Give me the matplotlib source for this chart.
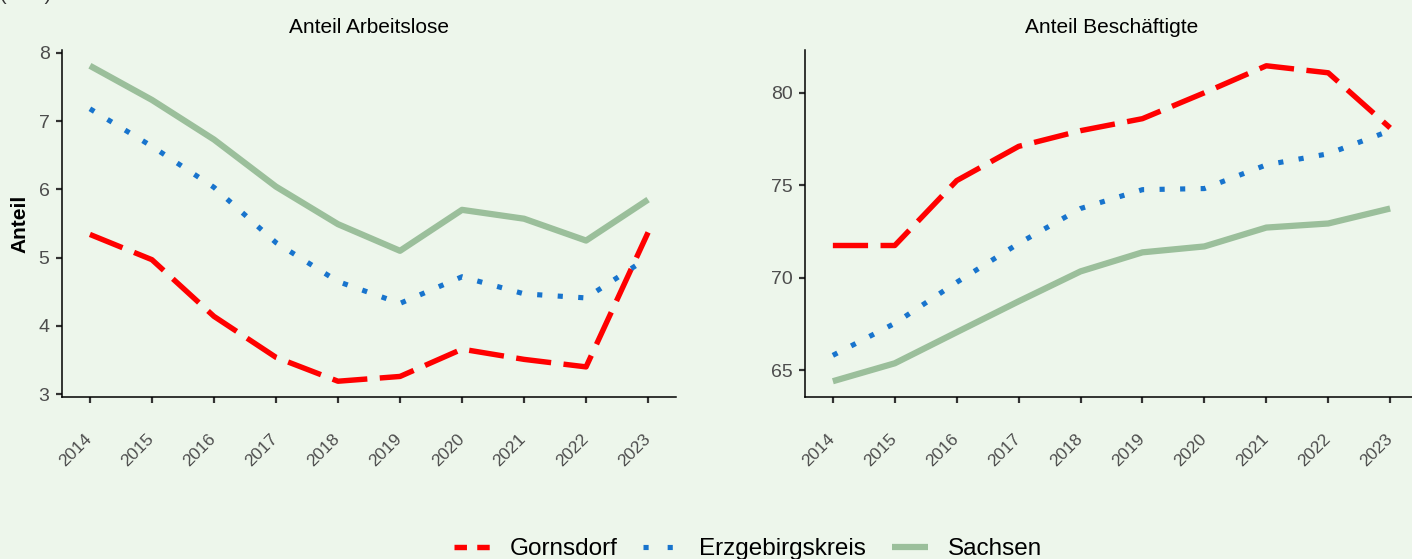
import matplotlib
matplotlib.use("Agg")
import matplotlib.pyplot as plt
from matplotlib.lines import Line2D
import matplotlib.transforms as mtransforms
import numpy as np

plt.rcParams['font.family'] = ['Liberation Sans', 'DejaVu Sans']

years = [2014, 2015, 2016, 2017, 2018, 2019, 2020, 2021, 2022, 2023]
series_names = ["Gornsdorf", "Erzgebirgskreis", "Sachsen"]

# Anteil Arbeitslose
alo_gornsdorf = [5.34, 4.97, 4.14, 3.54, 3.19, 3.26, 3.66, 3.51, 3.40, 5.37]
alo_erzgebirge = [7.18, 6.63, 6.03, 5.22, 4.65, 4.33, 4.72, 4.47, 4.41, 5.00]
alo_sachsen = [7.81, 7.31, 6.73, 6.04, 5.49, 5.10, 5.70, 5.57, 5.25, 5.85]

# Anteil Beschäftigte
besch_gornsdorf = [71.74, 71.74, 75.25, 77.10, 77.95, 78.60, 80.00, 81.46, 81.08, 78.10]
besch_erzgebirge = [65.80, 67.53, 69.75, 71.85, 73.74, 74.76, 74.82, 76.10, 76.70, 77.95]
besch_sachsen = [64.40, 65.37, 67.05, 68.72, 70.34, 71.37, 71.69, 72.71, 72.93, 73.74]

titles = ["Anteil Arbeitslose", "Anteil Beschäftigte"]
yticks_left = [3, 4, 5, 6, 7, 8]
yticks_right = [65, 70, 75, 80]

BG = "#EDF6EB"
RED = "#FF0000"
BLUE = "#1874CD"
GREEN = "#9BBF9B"

W, H = 1412, 559
fig = plt.figure(figsize=(W / 100, H / 100), dpi=100, facecolor=BG)

def px_axes(x0, x1, ytop, ybot):
    return [x0 / W, (H - ybot) / H, (x1 - x0) / W, (ybot - ytop) / H]

ax1 = fig.add_axes(px_axes(62, 676, 50, 397))
ax2 = fig.add_axes(px_axes(805, 1418, 50, 397))

styles = [
    dict(color=RED, lw=3.9, dashes=(6.5, 2.3), dash_capstyle='butt'),
    dict(color=BLUE, lw=3.7, dashes=(1.0, 3.0), dash_capstyle='butt'),
    dict(color=GREEN, lw=4.5, solid_capstyle='butt'),
]

def draw(ax, data, yticks, title):
    for vals, st in zip(data, styles):
        ax.plot(years, vals, **st)
    allv = np.concatenate([np.asarray(d) for d in data])
    lo, hi = allv.min(), allv.max()
    r = hi - lo
    ax.set_ylim(lo - 0.05 * r, hi + 0.05 * r)
    ax.set_xlim(years[0] - 0.45, years[-1] + 0.45)
    ax.set_facecolor(BG)
    for s in ["top", "right"]:
        ax.spines[s].set_visible(False)
    for s in ["left", "bottom"]:
        ax.spines[s].set_linewidth(1.1)
        ax.spines[s].set_color("black")
    ax.set_yticks(yticks)
    ax.set_xticks(years)
    ax.set_xticklabels([str(y) for y in years], rotation=45, ha="right", va="top")
    ax.tick_params(axis="y", length=4.5, width=1.6, color="#333333",
                   labelsize=14, labelcolor="#4D4D4D", pad=4.5)
    ax.tick_params(axis="x", length=4.5, width=1.6, color="#333333",
                   labelsize=12.5, labelcolor="#4D4D4D", pad=20)
    off = mtransforms.ScaledTranslation(5 / 100, 0, fig.dpi_scale_trans)
    for lab in ax.get_xticklabels():
        lab.set_transform(lab.get_transform() + off)
    ax.set_title(title, fontsize=15, pad=12, color="black")

draw(ax1, [alo_gornsdorf, alo_erzgebirge, alo_sachsen], yticks_left, titles[0])
draw(ax2, [besch_gornsdorf, besch_erzgebirge, besch_sachsen], yticks_right, titles[1])

fig.text(20 / W, 1 - 224 / H, "Anteil", rotation=90, ha="center", va="center",
         fontsize=15, fontweight="bold")

fig.text(0.0, 1.0 + 0.5 / H, "(in %)", ha="left", va="baseline", fontsize=14,
         color="#333333")

handles = [
    Line2D([], [], color=RED, lw=3.9, dashes=(2.3, 1.9), dash_capstyle='butt'),
    Line2D([], [], color=BLUE, lw=3.7, dashes=(1.0, 3.7), dash_capstyle='butt'),
    Line2D([], [], color=GREEN, lw=4.5, solid_capstyle='butt'),
]
fig.legend(handles, series_names, loc="center", bbox_to_anchor=(748 / W, 1 - 549 / H),
           ncol=3, frameon=False, fontsize=17.5, handlelength=1.5, handletextpad=0.8,
           columnspacing=1.05)

fig.savefig("out.png", dpi=100, facecolor=BG)
